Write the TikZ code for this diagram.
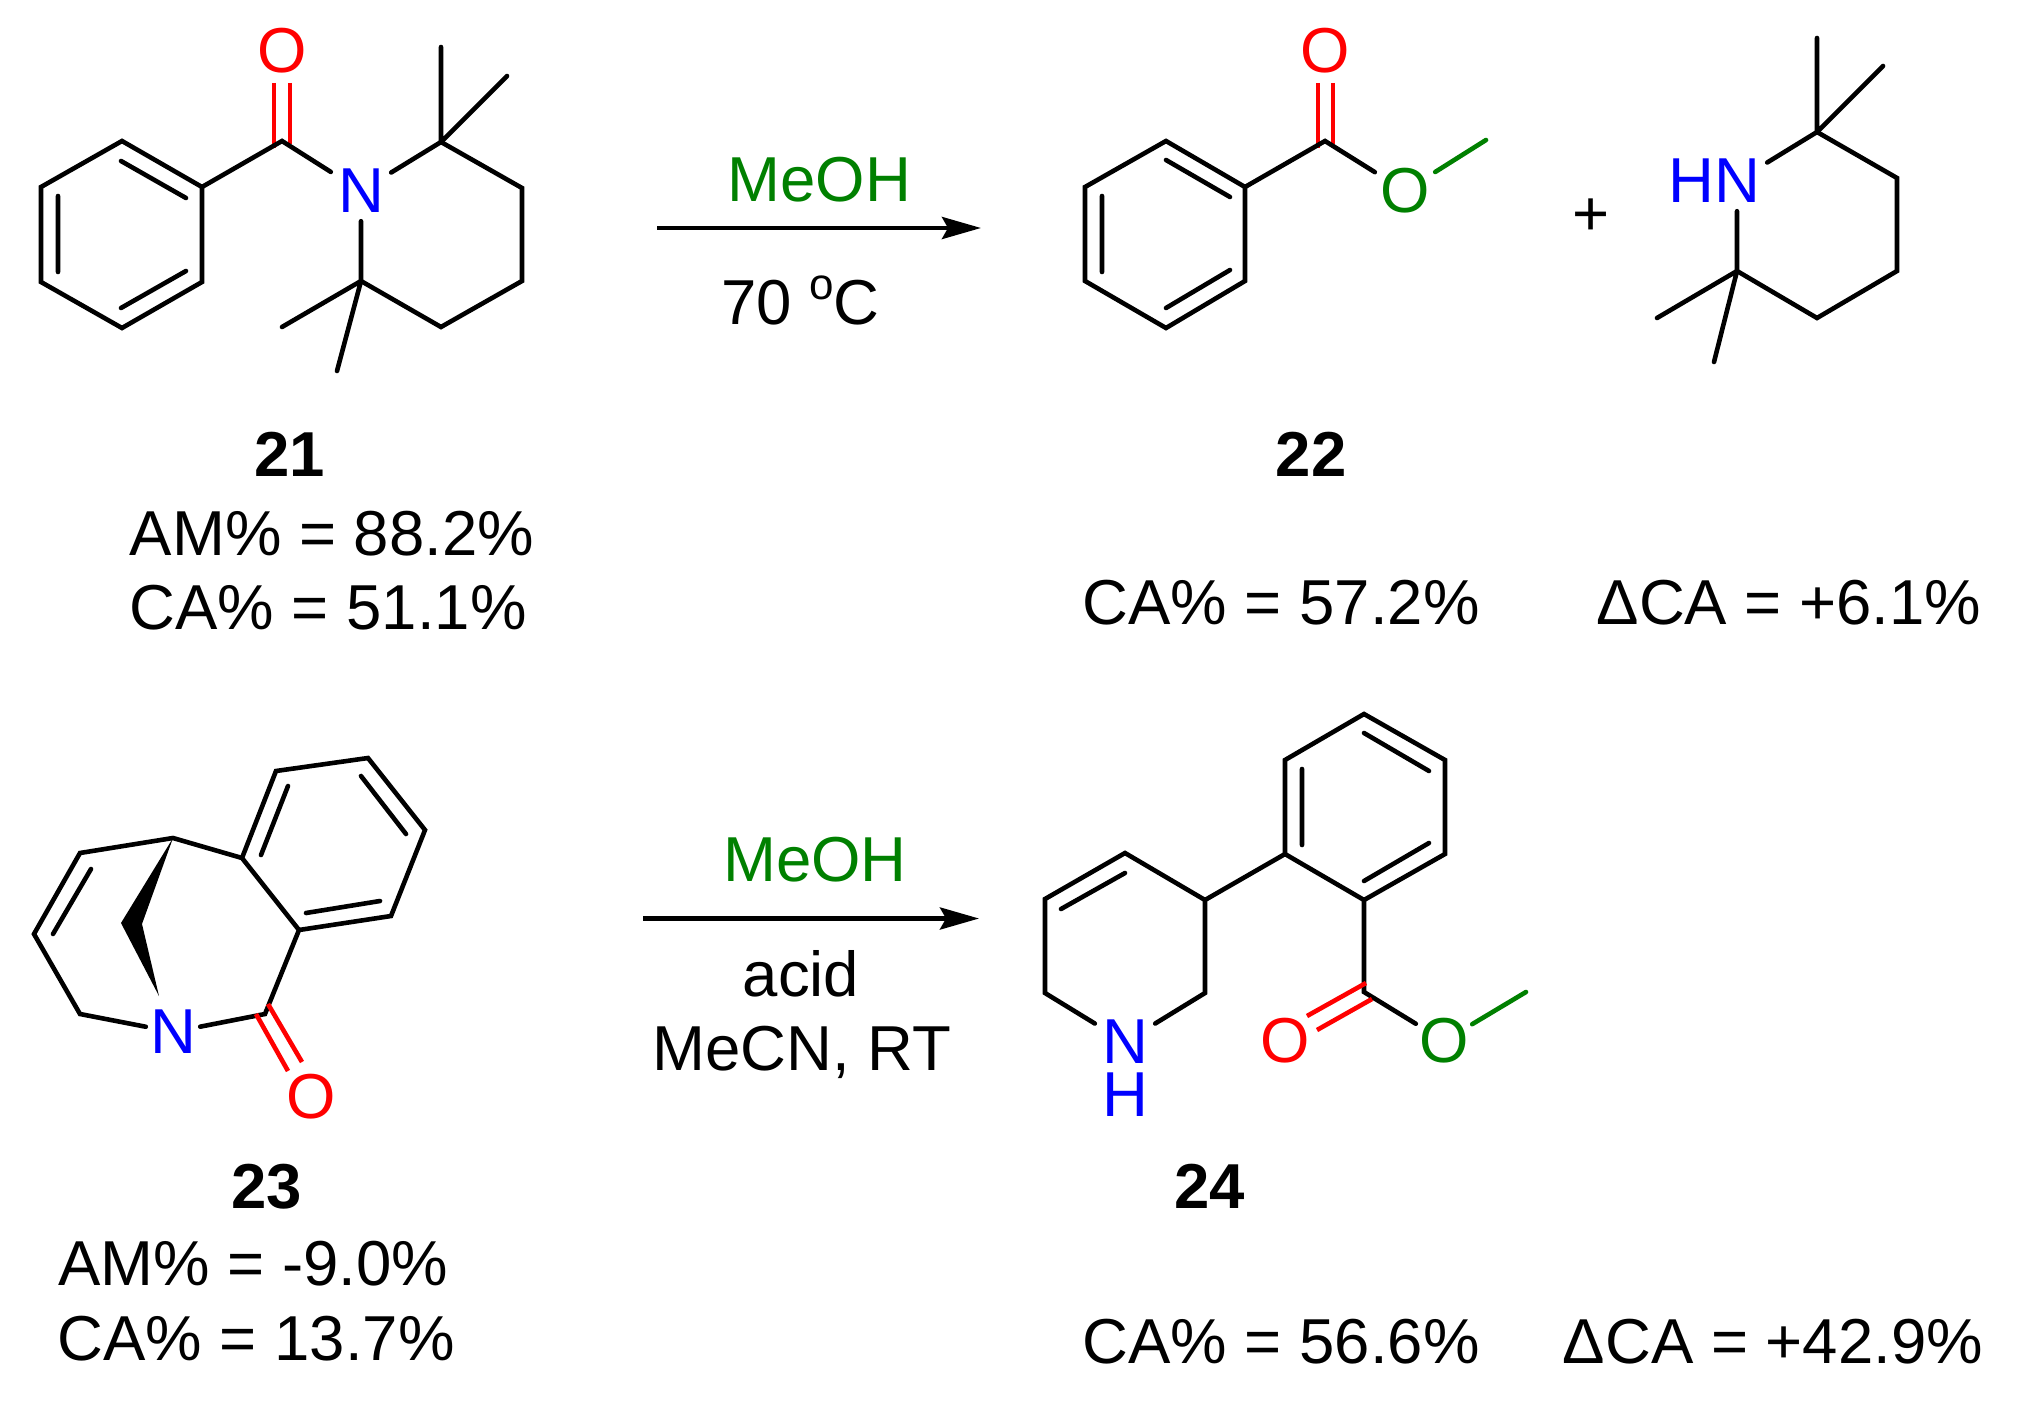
\documentclass[tikz,border=0pt]{standalone}
\usepackage{fontspec}
\setmainfont{Liberation Sans}
\usetikzlibrary{arrows.meta}
\definecolor{mgreen}{RGB}{0,128,0}
\tikzset{
  bond/.style={line width=4.6pt,line join=miter,line cap=round,black},
  redbond/.style={bond,red,line cap=butt},
  greenbond/.style={bond,mgreen},
  rxn/.style={line width=4.6pt,-{Stealth[length=39pt,width=22pt,inset=6pt]}},
  atom/.style={inner sep=0pt,minimum size=60pt,font=\fontsize{63.5}{70}\selectfont},
  Oatom/.style={atom,red},
  Gatom/.style={atom,mgreen},
  Natom/.style={atom,blue},
  txt/.style={inner sep=0pt,anchor=base,font=\fontsize{63.5}{70}\selectfont},
  lbl/.style={txt,font=\fontsize{63.5}{70}\selectfont\bfseries}
}
\begin{document}
\begin{tikzpicture}[x=1pt,y=-1pt]
\useasboundingbox (0,0) rectangle (2023,1407);
% ---------- 21
\foreach \n/\x/\y in {a1/122/141,a2/202/187,a3/202/282,a4/122/328,a5/41/282,a6/41/187,
  a7/121/161,a8/186/198,a9/58/196,a10/58/272,a11/121/308,a12/186/271,
  co/282/141,b2/441/142,b3/522/188,b4/522/281,b5/441/327,b6/361/281,
  m1/441/47,m2/507/76,m3/282/327,m4/337/371,
  r1/274/83,r2/274/148,r3/290/83,r4/290/144}
  \coordinate (\n) at (\x,\y);
\node[Oatom] (o21) at (282,51) {O};
\node[Natom] (n21) at (361,191) {N};
\draw[redbond] (r1)--(r2) (r3)--(r4);
\draw[bond] (a1)--(a2)--(a3)--(a4)--(a5)--(a6)--cycle;
\draw[bond] (a7)--(a8) (a9)--(a10) (a11)--(a12);
\draw[bond] (a2)--(co)--(n21);
\draw[bond] (n21)--(b2)--(b3)--(b4)--(b5)--(b6)--(b6|-n21.south);
\draw[bond] (b2)--(m1) (b2)--(m2) (b6)--(m3) (b6)--(m4);
% reaction 1
\coordinate (ar1s) at (657,228);
\coordinate (ar1e) at (981,228);
\draw[rxn] (ar1s)--(ar1e);
\node[txt,mgreen] (t1) at (819.5,201) {MeOH};
\node[txt] (t2) at (800.5,324) {70 \raisebox{25pt}{\fontsize{44}{48}\selectfont o}C};
\node[lbl] (l21) at (290,476) {21};
\node[txt] (t3) at (332,555) {AM\% = 88.2\%};
\node[txt] (t4) at (328,629) {CA\% = 51.1\%};
% ---------- 22
\foreach \n/\x/\y in {c1/1166/141,c2/1245/187,c3/1245/281,c4/1166/328,c5/1085/281,c6/1085/187,
  c7/1166/160,c8/1230/197,c9/1102/196,c10/1102/272,c11/1166/308,c12/1230/270,
  dco/1325/141,dme/1486/140,
  s1/1318/83,s2/1318/148,s3/1333/83,s4/1333/144}
  \coordinate (\n) at (\x,\y);
\node[Oatom] (o22) at (1325,51) {O};
\node[Gatom] (e22) at (1405,191) {O};
\draw[redbond] (s1)--(s2) (s3)--(s4);
\draw[bond] (c1)--(c2)--(c3)--(c4)--(c5)--(c6)--cycle;
\draw[bond] (c7)--(c8) (c9)--(c10) (c11)--(c12);
\draw[bond] (c2)--(dco)--(e22);
\draw[greenbond] (e22)--(dme);
\node[txt] (plus) at (1591,236) {+};
% piperidine
\foreach \n/\x/\y in {p2/1817/132,p3/1897/178,p4/1897/271,p5/1817/318,p6/1737/271,
  q1/1817/38,q2/1883/66,q3/1657/318,q4/1714/362}
  \coordinate (\n) at (\x,\y);
\node[Natom] (n22) at (1737,181) {N};
\node[Natom,anchor=east,minimum size=0pt] (h22) at (n22.center) [xshift=-22.5pt] {H};
\draw[bond] (n22)--(p2)--(p3)--(p4)--(p5)--(p6)--(p6|-n22.south);
\draw[bond] (p2)--(q1) (p2)--(q2) (p6)--(q3) (p6)--(q4);
\node[lbl] (l22) at (1311,476) {22};
\node[txt] (t5) at (1281,624) {CA\% = 57.2\%};
\node[txt] (t6) at (1789,624) {ΔCA = +6.1\%};
% ---------- 23
\foreach \n/\x/\y in {f1/173/838,f2/80/853,f3/34/934,f4/80/1014,f5/265/1014,f6/299/930,f7/242/858,
  g1/276/771,g2/368/758,g3/425/830,g4/391/916,
  h1/91/869,h2/53/934,h3/288/786,h4/261/855,h5/361/776,h6/406/834,h7/380/901,h8/306/913,
  w1/121/923,w2/159/996,w3/142/924,
  u1/256/1014,u2/288/1071,u3/268/1004,u4/302/1062}
  \coordinate (\n) at (\x,\y);
\node[Natom,minimum size=54pt] (n23) at (173,1032) {N};
\node[Oatom] (o23) at (311,1097) {O};
\fill[black] (f1)--(w1)--(w2)--(w3)--cycle;
\draw[bond] (n23)--(f4)--(f3)--(f2)--(f1)--(f7)--(f6)--(f5)--(n23);
\draw[bond] (f7)--(g1)--(g2)--(g3)--(g4)--(f6);
\draw[bond] (h1)--(h2) (h3)--(h4) (h5)--(h6) (h7)--(h8);
\draw[redbond] (u1)--(u2) (u3)--(u4);
% reaction 2
\coordinate (ar2s) at (643,918.5);
\coordinate (ar2e) at (979,918.5);
\draw[rxn] (ar2s)--(ar2e);
\node[txt,mgreen] (t7) at (815,881.5) {MeOH};
\node[txt] (t8) at (801,996) {acid};
\node[txt] (t9) at (802,1070) {MeCN, RT};
\node[lbl] (l23) at (267,1208) {23};
\node[txt] (t10) at (253,1285) {AM\% = -9.0\%};
\node[txt] (t11) at (256,1360) {CA\% = 13.7\%};
% ---------- 24
\foreach \n/\x/\y in {k1/1364/714,k2/1445/760,k3/1445/854,k4/1364/900,k5/1285/854,k6/1285/760,
  k7/1364/733,k8/1429/771,k9/1302/769,k10/1302/845,k11/1364/881,k12/1429/843,
  j1/1205/900,j2/1125/853,j3/1045/899,j4/1045/993,j5/1205/993,j6/1125/873,j7/1061/909,
  ec/1364/992,eme/1526/992,
  v1/1366/983,v2/1307/1016,v3/1372/999,v4/1317/1030}
  \coordinate (\n) at (\x,\y);
\node[Natom] (n24) at (1125,1042) {N};
\node[Natom,minimum size=0pt] (h24) at (1125,1095) {H};
\node[Oatom] (o24) at (1285,1041) {O};
\node[Gatom,minimum size=56pt] (e24) at (1444,1041) {O};
\draw[bond] (k1)--(k2)--(k3)--(k4)--(k5)--(k6)--cycle;
\draw[bond] (k7)--(k8) (k9)--(k10) (k11)--(k12);
\draw[bond] (k5)--(j1)--(j2)--(j3)--(j4)--(n24)--(j5)--(j1);
\draw[bond] (j6)--(j7);
\draw[bond] (k4)--(ec)--(e24);
\draw[redbond] (v1)--(v2) (v3)--(v4);
\draw[greenbond] (e24)--(eme);
\node[lbl] (l24) at (1209.5,1208) {24};
\node[txt] (t12) at (1281,1363) {CA\% = 56.6\%};
\node[txt] (t13) at (1773,1363) {ΔCA = +42.9\%};
\end{tikzpicture}
\end{document}
